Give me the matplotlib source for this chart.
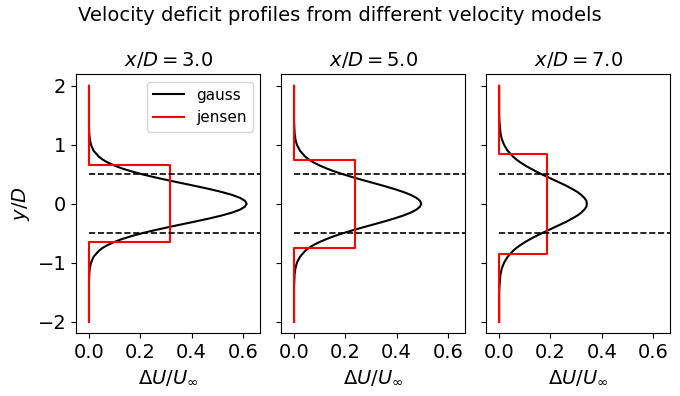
import matplotlib
matplotlib.use("Agg")
import matplotlib.pyplot as plt

# downstream positions
x_over_d = [3.0, 5.0, 7.0]

# lateral positions y/D
y_grid = [-2.0, -1.9, -1.8, -1.7, -1.6, -1.5, -1.4, -1.3, -1.2, -1.1, -1.0, -0.9, -0.8,
          -0.75, -0.7, -0.65, -0.6, -0.55, -0.5, -0.45, -0.4, -0.35, -0.3, -0.25, -0.2,
          -0.15, -0.1, -0.05, 0.0,
          0.05, 0.1, 0.15, 0.2, 0.25, 0.3, 0.35, 0.4, 0.45, 0.5, 0.55, 0.6, 0.65, 0.7,
          0.75, 0.8, 0.9, 1.0, 1.1, 1.2, 1.3, 1.4, 1.5, 1.6, 1.7, 1.8, 1.9, 2.0]

# gaussian deficit
gauss_x3 = [0, 0, 0, 0, 0, 0, 0, 0, 0.001, 0.003, 0.008, 0.018, 0.038,
            0.053, 0.073, 0.098, 0.128, 0.165, 0.207, 0.255, 0.307, 0.361, 0.416, 0.469, 0.517,
            0.558, 0.589, 0.608, 0.615,
            0.608, 0.589, 0.558, 0.517, 0.469, 0.416, 0.361, 0.307, 0.255, 0.207, 0.165, 0.128, 0.098, 0.073,
            0.053, 0.038, 0.018, 0.008, 0.003, 0.001, 0, 0, 0, 0, 0, 0, 0, 0]
gauss_x5 = [0, 0, 0, 0, 0, 0, 0, 0.001, 0.002, 0.005, 0.011, 0.023, 0.043,
            0.058, 0.076, 0.099, 0.126, 0.156, 0.191, 0.229, 0.269, 0.311, 0.352, 0.391, 0.426,
            0.455, 0.477, 0.491, 0.496,
            0.491, 0.477, 0.455, 0.426, 0.391, 0.352, 0.311, 0.269, 0.229, 0.191, 0.156, 0.126, 0.099, 0.076,
            0.058, 0.043, 0.023, 0.011, 0.005, 0.002, 0.001, 0, 0, 0, 0, 0, 0, 0]
gauss_x7 = [0, 0, 0, 0, 0, 0, 0.001, 0.003, 0.005, 0.010, 0.019, 0.033, 0.054,
            0.067, 0.083, 0.101, 0.121, 0.143, 0.166, 0.191, 0.215, 0.240, 0.264, 0.285, 0.305,
            0.320, 0.332, 0.340, 0.342,
            0.340, 0.332, 0.320, 0.305, 0.285, 0.264, 0.240, 0.215, 0.191, 0.166, 0.143, 0.121, 0.101, 0.083,
            0.067, 0.054, 0.033, 0.019, 0.010, 0.005, 0.003, 0.001, 0, 0, 0, 0, 0, 0]
gauss_all = [gauss_x3, gauss_x5, gauss_x7]

# jensen top-hat: deficit and half width
jensen_deficit = [0.317, 0.238, 0.186]
jensen_radius = [0.65, 0.75, 0.85]

rotor_edges = [0.5, -0.5]

fig, axes = plt.subplots(1, 3, figsize=(6.8, 3.96), dpi=100, sharex=True, sharey=True)
fig.subplots_adjust(left=0.112, right=0.986, bottom=0.158, top=0.813, wspace=0.114)

for i, ax in enumerate(axes):
    ax.plot(gauss_all[i], y_grid, color="k", lw=1.5, label="gauss")
    r = jensen_radius[i]
    d = jensen_deficit[i]
    jy = [y_grid[-1], r, r, -r, -r, y_grid[0]]
    jx = [0, 0, d, d, 0, 0]
    ax.plot(jx, jy, color="r", lw=1.5, label="jensen")
    for e in rotor_edges:
        ax.plot([0, 1], [e, e], "k--", lw=1.2)
    ax.set_title(f"$x/D = {x_over_d[i]:.1f}$", fontsize=14)
    ax.set_xlabel(r"$\Delta U/U_\infty$", fontsize=14)
    ax.tick_params(labelsize=14)

axes[0].set_ylabel("$y/D$", fontsize=14)
axes[0].legend(loc="upper right", fontsize=11)
axes[0].set_xlim(-0.05, 0.668)
axes[0].set_ylim(-2.2, 2.2)
axes[0].set_xticks([0.0, 0.2, 0.4, 0.6])
axes[0].set_yticks([-2, -1, 0, 1, 2])

fig.suptitle("Velocity deficit profiles from different velocity models", fontsize=14, y=0.985)

plt.savefig("out.png")
